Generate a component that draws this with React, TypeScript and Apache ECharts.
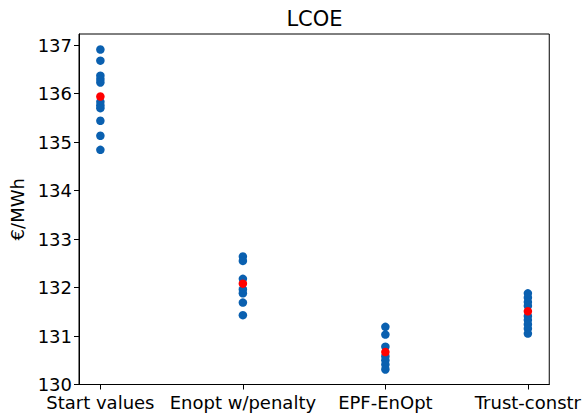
import React, { useEffect, useRef } from "react";
import * as echarts from "echarts";

// Methods along the x axis
const categories = ["Start values", "Enopt w/penalty", "EPF-EnOpt", "Trust-constr"];

// LCOE samples for each method (€/MWh)
const startValues = [136.91, 136.68, 136.37, 136.3, 136.23, 135.83, 135.76, 135.7, 135.44, 135.13, 134.84];
const enoptPenalty = [132.64, 132.55, 132.18, 131.96, 131.88, 131.69, 131.43];
const epfEnopt = [131.19, 131.03, 130.78, 130.58, 130.5, 130.41, 130.31];
const trustConstr = [131.88, 131.79, 131.7, 131.62, 131.41, 131.33, 131.24, 131.15, 131.05];

// Highlighted value per method (red)
const highlight = [135.94, 132.08, 130.67, 131.51];

const yTicks = [130, 131, 132, 133, 134, 135, 136, 137];

export default function App() {
  const ref = useRef<HTMLDivElement>(null);

  useEffect(() => {
    if (!ref.current) return;
    const chart = echarts.init(ref.current, undefined, { renderer: "svg" });
    const groups = [startValues, enoptPenalty, epfEnopt, trustConstr];
    const blueData: number[][] = [];
    groups.forEach((vals, i) => vals.forEach((v) => blueData.push([i, v])));
    const redData = highlight.map((v, i) => [i, v]);
    const font = "DejaVu Sans";

    chart.setOption({
      animation: false,
      backgroundColor: "#fff",
      grid: {
        left: 79,
        right: 34,
        top: 34,
        bottom: 30.5,
        show: true,
        borderColor: "#000",
        borderWidth: 1,
      },
      graphic: [
        {
          type: "text",
          x: 314.5,
          y: 18.5,
          style: {
            text: "LCOE",
            fontFamily: font,
            fontSize: 21,
            fill: "#000",
            textAlign: "center",
            textVerticalAlign: "middle",
          },
        },
      ],
      xAxis: {
        type: "value",
        min: -0.15,
        max: 3.15,
        splitLine: { show: false },
        axisLine: { show: true, onZero: false, lineStyle: { color: "#000", width: 1 } },
        axisTick: {
          show: true,
          customValues: [0, 1, 2, 3],
          length: 5,
          lineStyle: { color: "#000" },
        },
        axisLabel: {
          customValues: [0, 1, 2, 3],
          formatter: (v: number) => categories[Math.round(v)] ?? "",
          fontFamily: font,
          fontSize: 18,
          lineHeight: 16,
          color: "#000",
          margin: 10,
        },
      },
      yAxis: {
        type: "value",
        min: 130,
        max: 137.23,
        name: "€/MWh",
        nameLocation: "middle",
        nameGap: 44,
        nameTextStyle: { fontFamily: font, fontSize: 18, color: "#000" },
        splitLine: { show: false },
        axisLine: { show: true, onZero: false, lineStyle: { color: "#000", width: 1 } },
        axisTick: {
          show: true,
          customValues: yTicks,
          length: 5,
          lineStyle: { color: "#000" },
        },
        axisLabel: {
          customValues: yTicks,
          fontFamily: font,
          fontSize: 18,
          lineHeight: 14,
          color: "#000",
          margin: 7,
        },
      },
      series: [
        {
          type: "scatter",
          data: blueData,
          symbolSize: 8.5,
          itemStyle: { color: "#0a60b0", opacity: 1 },
          z: 2,
        },
        {
          type: "scatter",
          data: redData,
          symbolSize: 8.5,
          itemStyle: { color: "#ff0000", opacity: 1 },
          z: 3,
        },
      ],
    });
    return () => chart.dispose();
  }, []);

  return (
    <div
      ref={ref}
      style={{ position: "fixed", left: 0, top: 0, width: 584, height: 415 }}
    />
  );
}
